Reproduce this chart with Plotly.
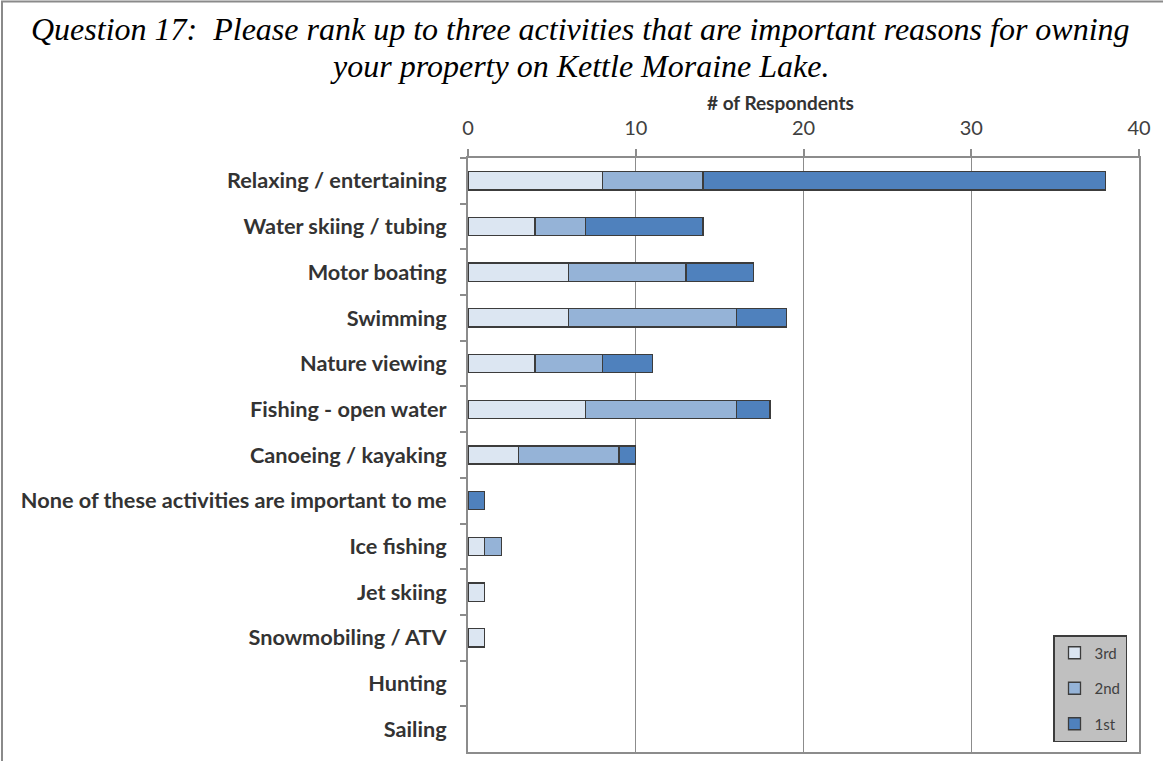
import plotly.graph_objects as go

# Survey responses: number of respondents ranking each activity 1st, 2nd or 3rd
categories = [
    "Relaxing / entertaining",
    "Water skiing / tubing",
    "Motor boating",
    "Swimming",
    "Nature viewing",
    "Fishing - open water",
    "Canoeing / kayaking",
    "None of these activities are important to me",
    "Ice fishing",
    "Jet skiing",
    "Snowmobiling / ATV",
    "Hunting",
    "Sailing",
]
third = [8, 4, 6, 6, 4, 7, 3, 0, 1, 1, 1, 0, 0]
second = [6, 3, 7, 10, 4, 9, 6, 0, 1, 0, 0, 0, 0]
first = [24, 7, 4, 3, 3, 2, 1, 1, 0, 0, 0, 0, 0]

x_ticks = [0, 10, 20, 30, 40]

W, H = 1163, 761
L, R, T, B = 468, 24, 158, 9
pw, ph = W - L - R, H - T - B


def px_x(p):
    return (p - L) / pw


def px_y(p):
    return (H - B - p) / ph


series = [
    ("3rd", third, "#DCE6F2"),
    ("2nd", second, "#95B3D7"),
    ("1st", first, "#4F81BD"),
]

fig = go.Figure()
for name, vals, color in series:
    fig.add_trace(go.Bar(
        y=categories,
        # empty segments are left out so no zero-width outline is drawn
        x=[v if v else None for v in vals],
        name=name,
        orientation="h",
        legendgroup=name,
        marker=dict(color=color, line=dict(color="#3c3c3c", width=1.3)),
        hoverinfo="x+name",
    ))

axis_gray = "#8c8c8c"
text_gray = "#404040"

fig.update_layout(
    width=W,
    height=H,
    barmode="stack",
    bargap=0.6,
    margin=dict(l=L, r=R, t=T, b=B, autoexpand=False),
    paper_bgcolor="white",
    plot_bgcolor="white",
    font=dict(family="Lato", color=text_gray),
    showlegend=True,
    legend=dict(
        x=px_x(1127), xanchor="right",
        y=px_y(742), yanchor="bottom",
        bgcolor="#C0C0C0",
        bordercolor="#3c3c3c",
        borderwidth=1.5,
        font=dict(family="Lato", size=15, color=text_gray),
        traceorder="grouped",
        tracegroupgap=13,
        itemwidth=30,
    ),
    xaxis=dict(
        side="top",
        range=[0, 40],
        tickvals=x_ticks,
        ticks="outside",
        ticklen=7,
        tickcolor=axis_gray,
        tickwidth=1.5,
        ticklabelstandoff=6,
        tickfont=dict(family="Lato", size=20, color=text_gray),
        showgrid=True,
        gridcolor=axis_gray,
        gridwidth=1.2,
        showline=True,
        linecolor=axis_gray,
        linewidth=2,
        mirror=True,
        zeroline=False,
    ),
    yaxis=dict(
        type="category",
        categoryorder="array",
        categoryarray=categories,
        autorange="reversed",
        ticks="outside",
        tickson="boundaries",
        ticklen=6,
        tickcolor=axis_gray,
        tickwidth=1.5,
        ticklabelstandoff=15,
        tickfont=dict(family="Lato", size=21.7, color="#333333", weight="bold"),
        showline=True,
        linecolor=axis_gray,
        linewidth=2,
        mirror=True,
        showgrid=False,
    ),
)

# Axis title above the top value axis
fig.add_annotation(
    text="<b># of Respondents</b>",
    xref="paper", yref="paper",
    x=px_x(780), y=px_y(102),
    xanchor="center", yanchor="middle",
    showarrow=False,
    font=dict(family="Lato", size=19, color="#333333"),
)

# Chart title, two centred lines
title_lines = [
    ("Question 17:  Please rank up to three activities that are important reasons for owning", 29),
    ("your property on Kettle Moraine Lake.", 66),
]
for line, yc in title_lines:
    fig.add_annotation(
        text=line,
        xref="paper", yref="paper",
        x=px_x(580), y=px_y(yc),
        xanchor="center", yanchor="middle",
        showarrow=False,
        font=dict(family="Liberation Serif", size=32, color="black", style="italic"),
    )

# Outer chart frame
fig.add_shape(
    type="rect", xref="paper", yref="paper",
    x0=px_x(2), x1=px_x(1200), y0=px_y(800), y1=px_y(1.5),
    line=dict(color="#8a8a8a", width=2),
    layer="below",
)

fig.write_html("out.html")
